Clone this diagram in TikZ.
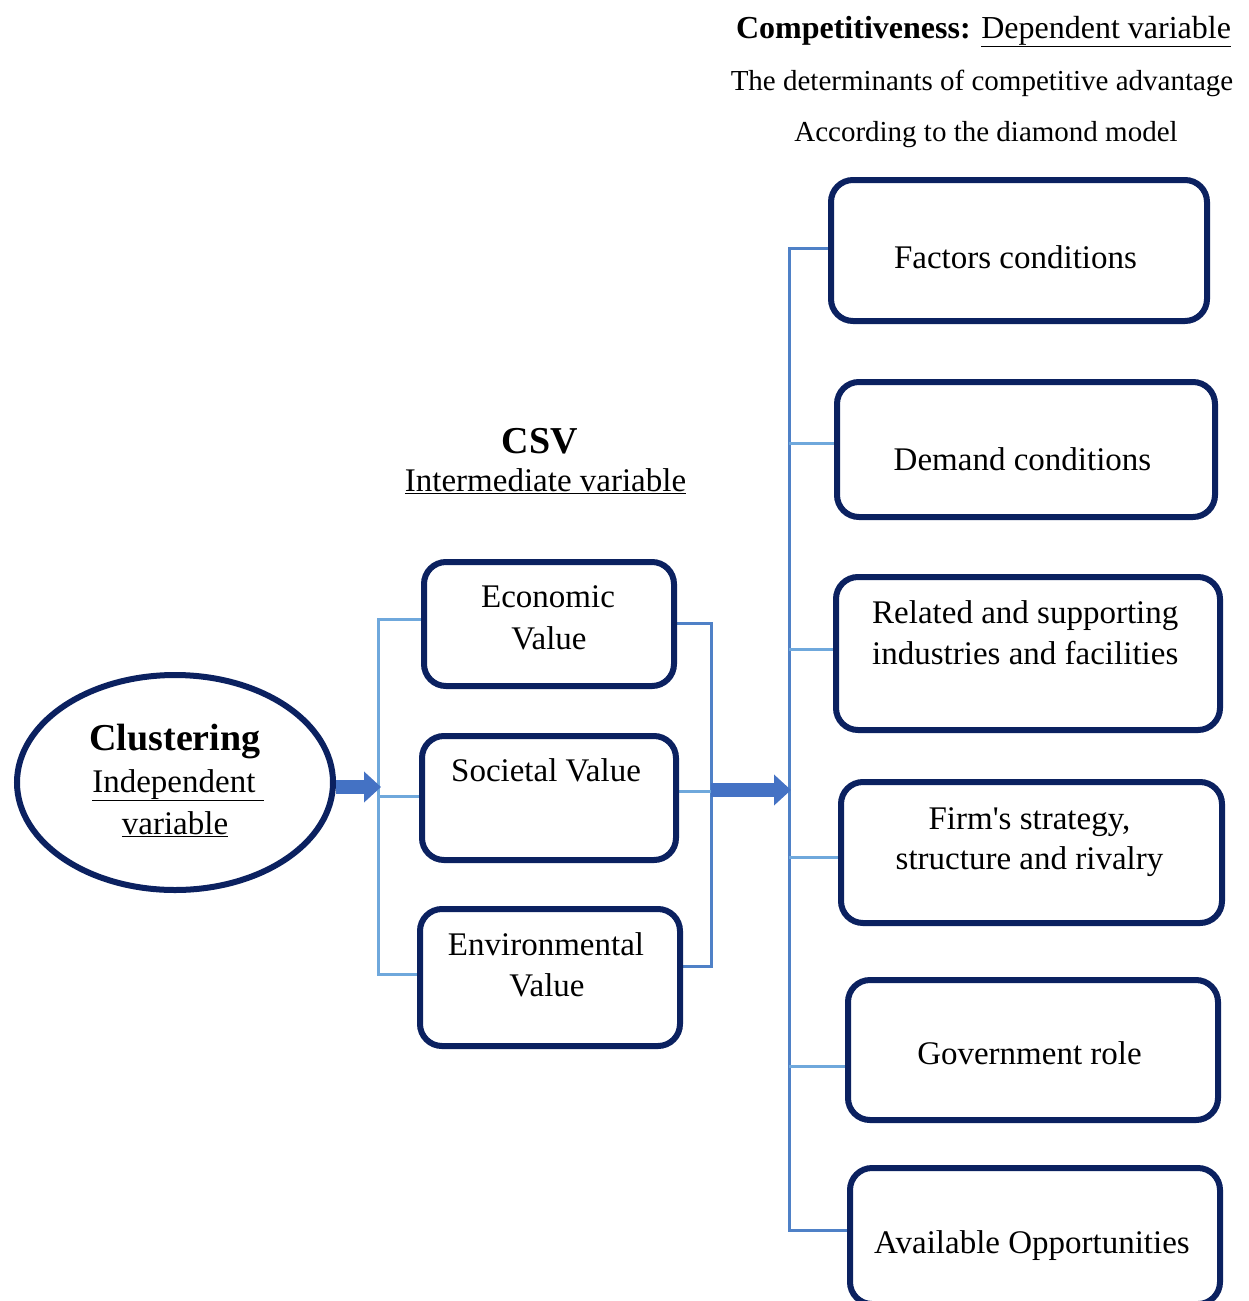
\documentclass[tikz,border=0pt]{standalone}
\usepackage{fontspec}
\setmainfont{Liberation Serif}
\usetikzlibrary{shapes.geometric,arrows.meta,backgrounds}
\definecolor{navy}{HTML}{0B2160}
\definecolor{lblue}{HTML}{6FA8DC}
\definecolor{mblue}{HTML}{4F81C7}
\definecolor{ablue}{HTML}{4472C4}
\begin{document}
\begin{tikzpicture}[x=1pt,y=-1pt,
  box/.style={draw=navy, line width=6pt, rounded corners=22pt, fill=white, inner sep=0pt},
  lbl/.style={anchor=base, font=\fontsize{33}{37}\selectfont, inner sep=0pt},
  hdr/.style={anchor=base, font=\fontsize{29}{34}\selectfont, inner sep=0pt},
  big/.style={anchor=base, font=\fontsize{38}{42}\selectfont\bfseries, inner sep=0pt},
  conn/.style={draw=lblue, line width=3pt},
  connd/.style={draw=mblue, line width=3pt},
  fatarrow/.style={draw=ablue, line width=14pt, -{Triangle[length=17pt,width=30pt]}}
]
\useasboundingbox (0,0) rectangle (1248,1301);

% header
\node[anchor=base, font=\fontsize{32}{36}\selectfont, inner sep=0pt] (title) at (983.5,38) {\textbf{Competitiveness:} \underline{Dependent variable}};
\node[hdr] (det) at (982,90) {The determinants of competitive advantage};
\node[hdr] (acc) at (986,141) {According to the diamond model};

% CSV title
\node[big] (csv) at (540,453) {CSV};
\node[lbl] (interm) at (545.5,491) {\underline{Intermediate variable}};

% ellipse
\node[ellipse, draw=navy, line width=6pt, fill=white, minimum width=316pt, minimum height=215pt, inner sep=0pt] (clu) at (175,782.5) {};
\node[big] (clut) at (175,750) {Clustering};
\node[lbl] (indep) at (178,792) {\underline{Independent\ }};
\node[lbl] (var) at (175,834) {\underline{variable}};

% middle boxes
\node[box, minimum width=250pt, minimum height=124pt] (eco) at (549,624) {};
\node[box, minimum width=254pt, minimum height=124pt] (soc) at (549,798) {};
\node[box, minimum width=260pt, minimum height=137pt] (env) at (550,977.5) {};
\node[lbl] (ecot1) at (548,607) {Economic};
\node[lbl] (ecot2) at (549,649) {Value};
\node[lbl] (soct) at (546,781) {Societal Value};
\node[lbl] (envt1) at (546,955) {Environmental};
\node[lbl] (envt2) at (547,996) {Value};

% right boxes
\node[box, minimum width=376pt, minimum height=141pt] (fac) at (1019,250.5) {};
\node[box, minimum width=378pt, minimum height=135pt] (dem) at (1026,449.5) {};
\node[box, minimum width=384pt, minimum height=153pt] (rel) at (1028,653.5) {};
\node[box, minimum width=381pt, minimum height=141pt] (firm) at (1031.5,852.5) {};
\node[box, minimum width=370pt, minimum height=140pt] (gov) at (1033,1050) {};
\node[box, minimum width=370pt, minimum height=136pt] (ava) at (1035,1236) {};
\node[lbl] (fact) at (1015.5,268) {Factors conditions};
\node[lbl] (demt) at (1022.5,470) {Demand conditions};
\node[lbl, anchor=base west] (relt1) at (872,623) {Related and supporting};
\node[lbl, anchor=base west] (relt2) at (872,664) {industries and facilities};
\node[lbl] (firmt1) at (1029.5,829) {Firm\textquotesingle s strategy,};
\node[lbl] (firmt2) at (1029.5,869) {structure and rivalry};
\node[lbl] (govt) at (1029.5,1064) {Government role};
\node[lbl] (avat) at (1032,1253) {Available Opportunities};

% connector coordinates
\coordinate (L1) at (378,619);
\coordinate (L2) at (378,796);
\coordinate (L3) at (378,974);
\coordinate (M1) at (711,623);
\coordinate (M2) at (711,791);
\coordinate (M3) at (711,966);
\coordinate (R1) at (789,248);
\coordinate (R2) at (789,443);
\coordinate (R3) at (789,649);
\coordinate (R4) at (789,857);
\coordinate (R5) at (789,1066);
\coordinate (R6) at (789,1230);
\coordinate (A1) at (381,787);
\coordinate (A2s) at (711,790);
\coordinate (A2) at (791,790);

\begin{scope}[on background layer]
  \draw[conn] (L1 -| eco.west) -- (L1) -- (L3) -- (L3 -| env.west);
  \draw[conn] (L2) -- (L2 -| soc.west);
  \draw[connd] (M1 -| eco.east) -- (M1) -- (M3) -- (M3 -| env.east);
  \draw[conn] (M2 -| soc.east) -- (M2);
  \draw[connd] (R1 -| fac.west) -- (R1) -- (R6) -- (R6 -| ava.west);
  \draw[conn] (R2) -- (R2 -| dem.west);
  \draw[conn] (R3) -- (R3 -| rel.west);
  \draw[conn] (R4) -- (R4 -| firm.west);
  \draw[conn] (R5) -- (R5 -| gov.west);
\end{scope}

% fat arrows
\draw[fatarrow] (clu.east |- A1) -- (A1);
\draw[fatarrow] (A2s) -- (A2);
\end{tikzpicture}
\end{document}
